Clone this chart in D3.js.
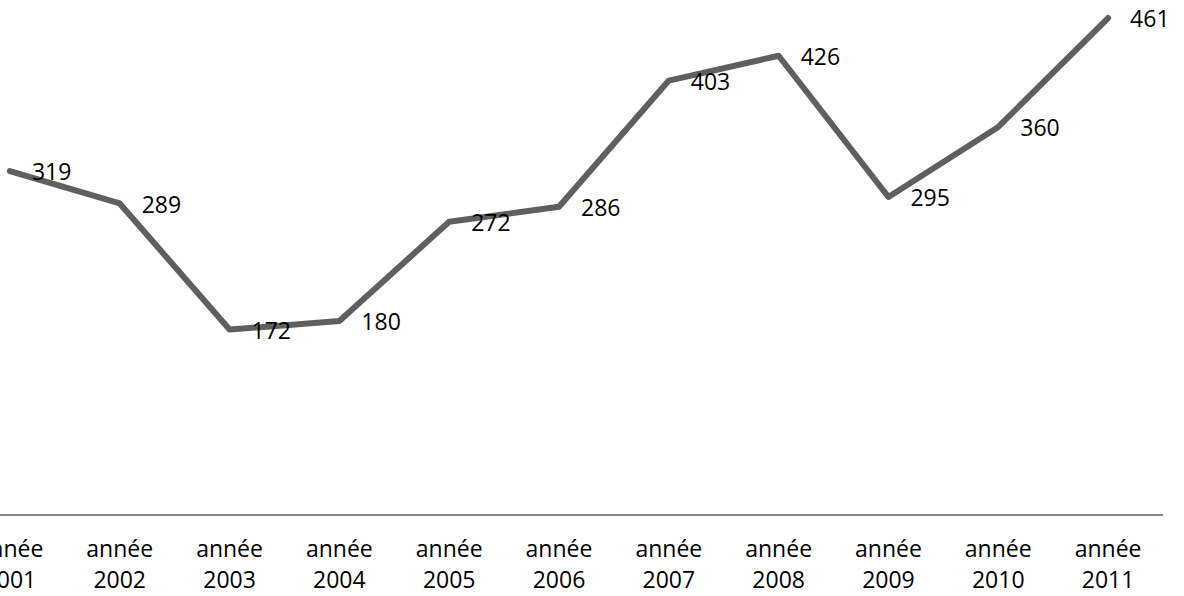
<!DOCTYPE html>
<html>
<head>
<meta charset="utf-8">
<script src="https://cdn.jsdelivr.net/npm/d3@7"></script>
<style>
  html, body { margin: 0; padding: 0; background: #fff; }
  svg { display: block; font-family: "Open Sans", sans-serif; }
</style>
</head>
<body>
<svg id="chart" width="1184" height="596"></svg>
<script>
// data
const years = ["2001", "2002", "2003", "2004", "2005", "2006", "2007", "2008", "2009", "2010", "2011"];
const values = [319, 289, 172, 180, 272, 286, 403, 426, 295, 360, 461];
const prefix = "année";

const svg = d3.select("#chart");

// plot area is shifted left so the first category is partly cut off, like the original
const x = d3.scaleBand().domain(years).range([-45, 1163]);
const y = d3.scaleLinear().domain([0, 500]).range([515, -24]);

const cx = d => x(d) + x.bandwidth() / 2;

// category axis (just the baseline, no ticks)
svg.append("line")
    .attr("x1", 0).attr("x2", x.range()[1])
    .attr("y1", y(0)).attr("y2", y(0))
    .attr("stroke", "#868686")
    .attr("stroke-width", 2);

let labels = svg.append("g").selectAll("text")
    .data(years)
    .join("text")
    .attr("x", d => cx(d))
    .attr("text-anchor", "middle")
    .attr("font-size", 23)
    .attr("fill", "#000");
labels.append("tspan").attr("x", d => cx(d)).attr("y", 557).text(prefix);
labels.append("tspan").attr("x", d => cx(d)).attr("y", 588).text(d => d);

const pts = years.map((yr, i) => ({ year: yr, value: values[i] }));

svg.append("path")
    .datum(pts)
    .attr("fill", "none")
    .attr("stroke", "#5f5f5f")
    .attr("stroke-width", 6)
    .attr("stroke-linejoin", "round")
    .attr("stroke-linecap", "round")
    .attr("d", d3.line().x(d => cx(d.year)).y(d => y(d.value)));

// value labels, placed to the right of each point
svg.append("g").selectAll("text")
    .data(pts)
    .join("text")
    .attr("x", d => cx(d.year) + 22)
    .attr("y", d => y(d.value) + 3)
    .attr("dominant-baseline", "middle")
    .attr("font-size", 23)
    .attr("fill", "#000")
    .text(d => d.value);
</script>
</body>
</html>
